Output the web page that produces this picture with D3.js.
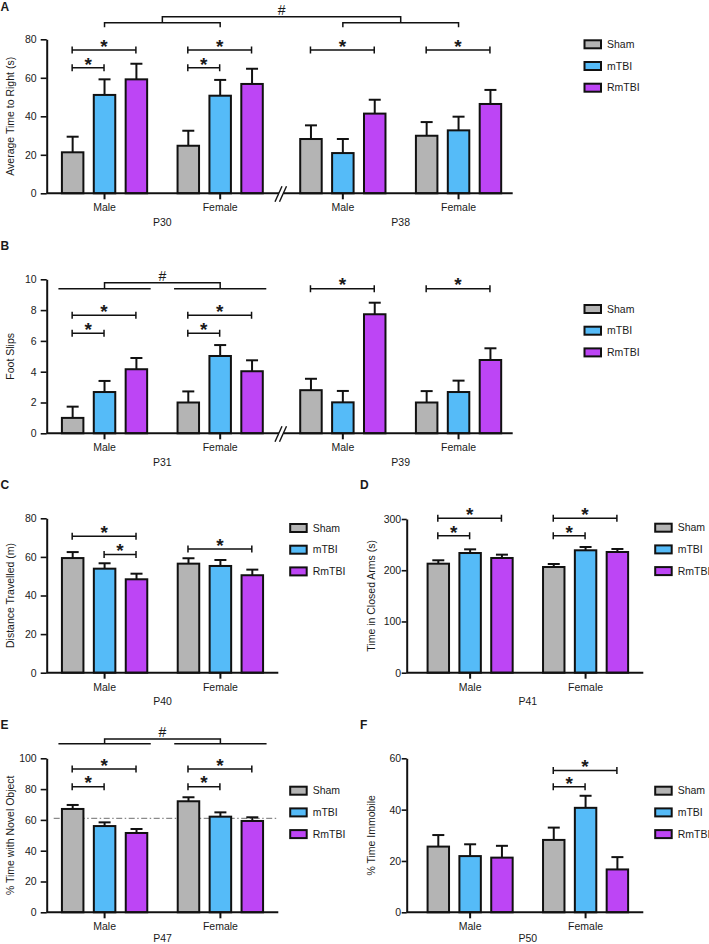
<!DOCTYPE html>
<html><head><meta charset="utf-8">
<script src="https://cdn.jsdelivr.net/npm/d3@7"></script>
<style>
html,body{margin:0;padding:0;background:#fff;}
svg text{font-family:"Liberation Sans",Arial,Helvetica,sans-serif;fill:#1a1a1a;}
</style></head>
<body><svg id="c" width="709" height="944"></svg>
<script>
// ---------- DATA ----------
const groups = ["Sham", "mTBI", "RmTBI"];
const groupColors = ["#b4b4b4", "#55bbf8", "#bd45f5"];

// Panel A: Average time to right (s)
const aCategories = ["Male", "Female", "Male", "Female"];
const aAges = ["P30", "P38"];
const aSham = [21.3, 24.7, 28.2, 29.9];
const aShamSem = [8.1, 7.8, 7.1, 7.1];
const aMtbi = [51.1, 50.7, 20.9, 32.7];
const aMtbiSem = [8.1, 8.2, 7.3, 7.1];
const aRmtbi = [59.2, 56.8, 41.4, 46.4];
const aRmtbiSem = [8.1, 7.9, 7.2, 7.3];
const aYTicks = [0, 20, 40, 60, 80];
const aSig = [[0, 0, 1, 65.2], [0, 0, 2, 74.4], [1, 0, 1, 65.2], [1, 0, 2, 74.4], [2, 0, 2, 74.4], [3, 0, 2, 74.4]];

// Panel B: Foot slips
const bCategories = ["Male", "Female", "Male", "Female"];
const bAges = ["P31", "P39"];
const bSham = [1.0, 2.0, 2.8, 2.0];
const bShamSem = [0.73, 0.72, 0.74, 0.74];
const bMtbi = [2.68, 5.02, 2.01, 2.68];
const bMtbiSem = [0.72, 0.71, 0.74, 0.74];
const bRmtbi = [4.16, 4.03, 7.73, 4.76];
const bRmtbiSem = [0.73, 0.71, 0.75, 0.76];
const bYTicks = [0, 2, 4, 6, 8, 10];
const bSig = [[0, 0, 1, 6.49], [0, 0, 2, 7.66], [1, 0, 1, 6.49], [1, 0, 2, 7.66], [2, 0, 2, 9.39], [3, 0, 2, 9.39]];

// Panel C: Distance travelled (m)
const cCategories = ["Male", "Female"];
const cAges = ["P40"];
const cSham = [59.4, 56.5];
const cShamSem = [3.1, 2.8];
const cMtbi = [53.9, 55.3];
const cMtbiSem = [2.8, 3.1];
const cRmtbi = [48.4, 50.5];
const cRmtbiSem = [2.9, 2.9];
const cYTicks = [0, 20, 40, 60, 80];
const cSig = [[0, 0, 2, 70.7], [0, 1, 2, 61.3], [1, 0, 2, 64.1]];

// Panel D: Time in closed arms (s)
const dCategories = ["Male", "Female"];
const dAges = ["P41"];
const dSham = [212.8, 206.3];
const dShamSem = [6.6, 5.9];
const dMtbi = [233.6, 238.9];
const dMtbiSem = [7.2, 6.5];
const dRmtbi = [223.9, 235.6];
const dRmtbiSem = [6.5, 5.9];
const dYTicks = [0, 100, 200, 300];
const dSig = [[0, 0, 1, 267.4], [0, 0, 2, 301.4], [1, 0, 1, 267.4], [1, 0, 2, 301.4]];

// Panel E: % time with novel object
const eCategories = ["Male", "Female"];
const eAges = ["P47"];
const eSham = [67.1, 72.1];
const eShamSem = [2.6, 2.6];
const eMtbi = [56.0, 62.1];
const eMtbiSem = [2.4, 2.8];
const eRmtbi = [51.5, 59.3];
const eRmtbiSem = [2.6, 2.4];
const eYTicks = [0, 20, 40, 60, 80, 100];
const eSig = [[0, 0, 1, 81.6], [0, 0, 2, 93.1], [1, 0, 1, 81.6], [1, 0, 2, 93.1]];
const eReference = 61;

// Panel F: % time immobile
const fCategories = ["Male", "Female"];
const fAges = ["P50"];
const fSham = [25.6, 28.2];
const fShamSem = [4.5, 4.8];
const fMtbi = [21.9, 40.7];
const fMtbiSem = [4.6, 4.7];
const fRmtbi = [21.3, 16.7];
const fRmtbiSem = [4.6, 4.8];
const fYTicks = [0, 20, 40, 60];
const fSig = [[1, 0, 1, 48.9], [1, 0, 2, 55.2]];

// ---------- DRAWING ----------
const svg = d3.select("#c");
const FS = 10.5;

function drawPanel(p) {
  const g = svg.append("g");
  const y = d3.scaleLinear().domain(p.yDomain).range([p.bottom, p.top]);
  const halves = p.halves.map(r => d3.scaleBand().domain([0, 1]).range(r).paddingInner(0.263).paddingOuter(0.1315));
  const means = [p.sham, p.mtbi, p.rmtbi];
  const sems = [p.shamSem, p.mtbiSem, p.rmtbiSem];
  const inner = h => d3.scaleBand().domain(d3.range(groups.length)).range([0, halves[h].bandwidth()]).paddingInner(0.326);
  const barX = (ci, gi) => { const h = Math.floor(ci / 2); return halves[h](ci % 2) + inner(h)(gi); };
  const barW = ci => inner(Math.floor(ci / 2)).bandwidth();
  const barC = (ci, gi) => barX(ci, gi) + barW(ci) / 2;
  const catC = ci => { const h = Math.floor(ci / 2); return halves[h](ci % 2) + halves[h].bandwidth() / 2; };
  const catStart = ci => { const h = Math.floor(ci / 2); return halves[h](ci % 2); };
  const catEnd = ci => catStart(ci) + halves[Math.floor(ci / 2)].bandwidth();

  // reference line
  if (p.reference != null) {
    g.append("line").attr("x1", p.axisX + 7).attr("x2", p.refEnd)
      .attr("y1", y(p.reference)).attr("y2", y(p.reference))
      .attr("stroke", "#8a8a8a").attr("stroke-width", 1.1).attr("stroke-dasharray", "6,2.5,1.5,2.5");
  }

  // bars
  p.categories.forEach((cat, ci) => {
    groups.forEach((grp, gi) => {
      const v = means[gi][ci], s = sems[gi][ci];
      const cx = barC(ci, gi), w = barW(ci);
      g.append("line").attr("x1", cx).attr("x2", cx).attr("y1", y(v)).attr("y2", y(v + s))
        .attr("stroke", "#111").attr("stroke-width", 2);
      g.append("line").attr("x1", cx - 6).attr("x2", cx + 6).attr("y1", y(v + s)).attr("y2", y(v + s))
        .attr("stroke", "#111").attr("stroke-width", 2);
      g.append("rect").attr("x", barX(ci, gi)).attr("width", w)
        .attr("y", y(v)).attr("height", y(0) - y(v))
        .attr("fill", groupColors[gi]).attr("stroke", "#111").attr("stroke-width", 2);
    });
  });

  // y axis
  const ya = g.append("g").attr("transform", `translate(${p.axisX},0)`)
    .call(d3.axisLeft(y).tickValues(p.yTicks).tickSize(p.tickSize).tickPadding(p.tickPad).tickSizeOuter(0));
  ya.select(".domain").attr("stroke", "#111").attr("stroke-width", 2);
  ya.selectAll(".tick line").attr("stroke", "#111").attr("stroke-width", 1.6);
  ya.selectAll(".tick text").style("font-size", FS + "px").style("font-family", "Liberation Sans, Arial, sans-serif").attr("fill", "#1a1a1a");

  // x axis segments
  p.axisSegs.forEach(seg => {
    g.append("line").attr("x1", seg[0]).attr("x2", seg[1]).attr("y1", y(0)).attr("y2", y(0))
      .attr("stroke", "#111").attr("stroke-width", 2);
  });
  halves.forEach((sc, h) => {
    const xa = g.append("g").attr("transform", `translate(0,${y(0)})`)
      .call(d3.axisBottom(sc).tickSize(6).tickPadding(4.5).tickFormat(i => p.categories[h * 2 + i]));
    xa.select(".domain").remove();
    xa.selectAll(".tick line").attr("stroke", "#111").attr("stroke-width", 2);
    xa.selectAll(".tick text").style("font-size", FS + "px").style("font-family", "Liberation Sans, Arial, sans-serif").attr("fill", "#1a1a1a");
    g.append("text").attr("x", (catC(h * 2) + catC(h * 2 + 1)) / 2).attr("y", y(0) + p.ageOff)
      .attr("text-anchor", "middle").style("font-size", FS + "px").text(p.ages[h]);
  });

  // axis break
  if (p.brk) {
    const by = y(0);
    [p.brk, p.brk + 4.5].forEach(bx => {
      g.append("line").attr("x1", bx - 3.5).attr("y1", by + 8.5).attr("x2", bx + 3.5).attr("y2", by - 7)
        .attr("stroke", "#111").attr("stroke-width", 1.4);
    });
  }

  // y title
  g.append("text").attr("transform", `translate(${p.titleX},${(p.top + p.bottom) / 2}) rotate(-90)`)
    .attr("text-anchor", "middle").style("font-size", FS + "px").text(p.title);

  // panel letter
  g.append("text").attr("x", p.letterX).attr("y", p.letterY).style("font-size", "12px")
    .style("font-weight", "bold").text(p.letter);

  // significance brackets
  const br = g.append("g").attr("stroke", "#111").attr("stroke-width", 1.5).attr("fill", "none");
  p.sig.forEach(([ci, ga, gb, lvl]) => {
    const x1 = barC(ci, ga) - 0.5, x2 = barC(ci, gb) - 0.5, yy = y(lvl);
    br.append("path").attr("d", `M${x1},${yy - 3.5}V${yy + 3.5}M${x1},${yy}H${x2}M${x2},${yy - 3.5}V${yy + 3.5}`);
    g.append("text").attr("x", (x1 + x2) / 2).attr("y", yy + 2.8).attr("text-anchor", "middle")
      .style("font-size", "19px").style("font-weight", "bold").text("*");
  });

  // hash brackets
  if (p.hash) {
    const hs = p.hash;
    let hx1, hx2;
    if (hs.type === "pairs") {
      const mids = hs.cats.map(([a, b]) => {
        const xa = catC(a), xb = catC(b), yl = y(hs.low), yt = y(hs.tickTo);
        br.append("path").attr("d", `M${xa},${yt}V${yl}H${xb}V${yt}`);
        return (xa + xb) / 2;
      });
      hx1 = mids[0]; hx2 = mids[1];
    } else {
      hs.cats.forEach(c => {
        br.append("line").attr("x1", catStart(c) - 3.5).attr("x2", catEnd(c) + 3.5)
          .attr("y1", y(hs.low)).attr("y2", y(hs.low));
      });
      hx1 = catC(hs.cats[0]); hx2 = catC(hs.cats[1]);
    }
    const yh = y(hs.high), yl = y(hs.low);
    br.append("path").attr("d", `M${hx1},${yl}V${yh}H${hx2}V${yl}`);
    g.append("text").attr("x", (hx1 + hx2) / 2).attr("y", yh - 2).attr("text-anchor", "middle")
      .style("font-size", "14px").text("#");
  }

  // legend
  groups.forEach((grp, gi) => {
    const cy = p.legY + gi * 21.7;
    g.append("rect").attr("x", p.legX).attr("y", cy - 4).attr("width", 16.5).attr("height", 8)
      .attr("fill", groupColors[gi]).attr("stroke", "#111").attr("stroke-width", 2);
    g.append("text").attr("x", p.legX + 22.5).attr("y", cy).attr("dy", "0.36em")
      .style("font-size", FS + "px").text(grp);
  });
}

const left = { axisX: 46.7, tickSize: 6, tickPad: 4, titleX: 13.5, letterX: 0.5, ageOff: 32.5 };
const right = { axisX: 406.7, tickSize: 5, tickPad: 0.5, titleX: 374.5, letterX: 360, ageOff: 32.5 };

drawPanel(Object.assign({}, left, {
  letter: "A", letterY: 10.5, title: "Average Time to Right (s)",
  categories: aCategories, ages: aAges, sham: aSham, shamSem: aShamSem, mtbi: aMtbi, mtbiSem: aMtbiSem,
  rmtbi: aRmtbi, rmtbiSem: aRmtbiSem, yDomain: [0, 80], yTicks: aYTicks, top: 39.3, bottom: 193.3,
  halves: [[46.7, 278], [285, 516.4]], axisSegs: [[46.7, 279], [283.5, 512.7]], brk: 278.5,
  sig: aSig, hash: { type: "pairs", cats: [[0, 1], [2, 3]], low: 88.6, tickTo: 86.2, high: 91.7 },
  legX: 584.5, legY: 44.3
}));
drawPanel(Object.assign({}, left, {
  letter: "B", letterY: 250, title: "Foot Slips",
  categories: bCategories, ages: bAges, sham: bSham, shamSem: bShamSem, mtbi: bMtbi, mtbiSem: bMtbiSem,
  rmtbi: bRmtbi, rmtbiSem: bRmtbiSem, yDomain: [0, 10], yTicks: bYTicks, top: 279.3, bottom: 433.3,
  halves: [[46.7, 278], [285, 516.4]], axisSegs: [[46.7, 279], [283.5, 512.7]], brk: 278.5,
  sig: bSig, hash: { type: "clusters", cats: [0, 1], low: 9.39, high: 9.78 },
  legX: 584.5, legY: 309
}));
drawPanel(Object.assign({}, left, {
  letter: "C", letterY: 489, title: "Distance Travelled (m)",
  categories: cCategories, ages: cAges, sham: cSham, shamSem: cShamSem, mtbi: cMtbi, mtbiSem: cMtbiSem,
  rmtbi: cRmtbi, rmtbiSem: cRmtbiSem, yDomain: [0, 80], yTicks: cYTicks, top: 518.3, bottom: 672.7,
  halves: [[46.7, 278.3]], axisSegs: [[46.7, 278.3]], sig: cSig, legX: 290.2, legY: 528
}));
drawPanel(Object.assign({}, right, {
  letter: "D", letterY: 489, title: "Time in Closed Arms (s)",
  categories: dCategories, ages: dAges, sham: dSham, shamSem: dShamSem, mtbi: dMtbi, mtbiSem: dMtbiSem,
  rmtbi: dRmtbi, rmtbiSem: dRmtbiSem, yDomain: [0, 300], yTicks: dYTicks, top: 519, bottom: 672.7,
  halves: [[412.4, 643.3]], axisSegs: [[406.7, 643.3]], sig: dSig, legX: 655.2, legY: 527.7
}));
drawPanel(Object.assign({}, left, {
  letter: "E", letterY: 729, title: "% Time with Novel Object", ageOff: 30,
  categories: eCategories, ages: eAges, sham: eSham, shamSem: eShamSem, mtbi: eMtbi, mtbiSem: eMtbiSem,
  rmtbi: eRmtbi, rmtbiSem: eRmtbiSem, yDomain: [0, 100], yTicks: eYTicks, top: 758.3, bottom: 912.3,
  halves: [[46.7, 278.3]], axisSegs: [[46.7, 278.3]], sig: eSig,
  hash: { type: "clusters", cats: [0, 1], low: 109.5, high: 112.5 },
  reference: eReference, refEnd: 278.3, legX: 290.2, legY: 790.7
}));
drawPanel(Object.assign({}, right, {
  letter: "F", letterY: 729, title: "% Time Immobile", ageOff: 30,
  categories: fCategories, ages: fAges, sham: fSham, shamSem: fShamSem, mtbi: fMtbi, mtbiSem: fMtbiSem,
  rmtbi: fRmtbi, rmtbiSem: fRmtbiSem, yDomain: [0, 60], yTicks: fYTicks, top: 758.3, bottom: 912.3,
  halves: [[412.4, 643.3]], axisSegs: [[406.7, 643.3]], sig: fSig, legX: 655.2, legY: 790.7
}));
</script></body></html>
